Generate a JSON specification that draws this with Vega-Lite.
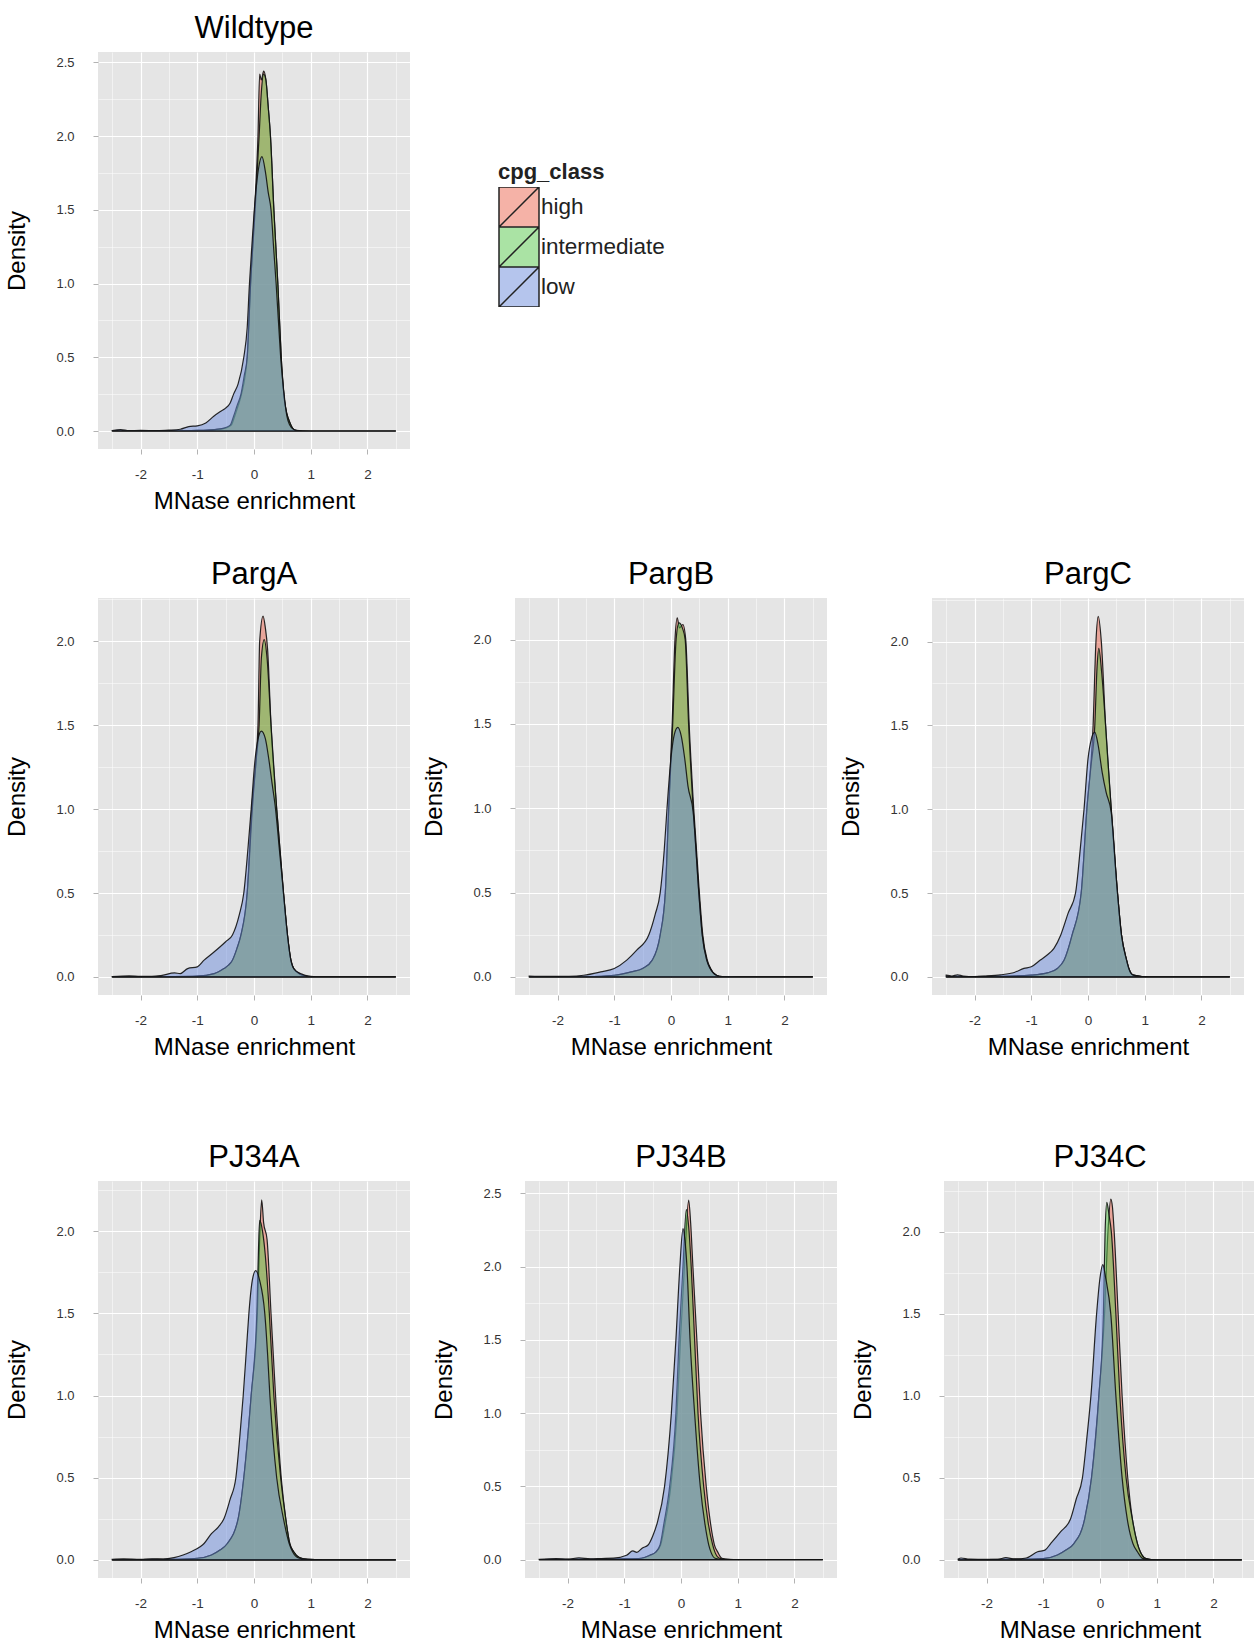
{
"$schema": "https://vega.github.io/schema/vega-lite/v6.json",
"padding": {"left": 5, "top": 13, "right": 0, "bottom": 0},
"background": "white",
"config": {
  "font": "Liberation Sans",
  "view": {"fill": "#E5E5E5", "stroke": null},
  "title": {"fontSize": 31, "fontWeight": "normal", "color": "#000000", "anchor": "middle", "baseline": "alphabetic", "offset": 7},
  "axis": {"domain": false, "tickColor": "#b3b3b3", "tickSize": 5, "labelColor": "#333333", "titleFontSize": 24, "titleFontWeight": "normal", "titleColor": "#000000", "gridColor": "#ffffff"},
  "axisX": {"labelFontSize": 13.5, "labelPadding": 13, "titlePadding": 8.5},
  "axisY": {"labelFontSize": 13, "labelPadding": 19, "titlePadding": 26},
  "legend": {"titleFontSize": 22, "titleFontWeight": "bold", "titleColor": "#222222", "titlePadding": 3, "labelFontSize": 22.5, "labelColor": "#222222", "labelOffset": 1, "symbolType": "M-1,-1H1V1H-1Z M-1,1L1,-1", "symbolSize": 1600, "symbolStrokeColor": "#222222", "symbolStrokeWidth": 1.5, "rowPadding": 0, "clipHeight": 40}
},
"datasets": {
"Wildtype": [
{"c":"high","x":-2.5,"y":0},{"c":"high","x":-1.5,"y":0.001},{"c":"high","x":-1.0,"y":0.004},{"c":"high","x":-0.7,"y":0.01},{"c":"high","x":-0.5,"y":0.02},{"c":"high","x":-0.4,"y":0.04},{"c":"high","x":-0.34,"y":0.1},{"c":"high","x":-0.28,"y":0.17},{"c":"high","x":-0.22,"y":0.25},{"c":"high","x":-0.12,"y":0.5},{"c":"high","x":-0.06,"y":1.0},{"c":"high","x":0.01,"y":1.5},{"c":"high","x":0.07,"y":2.0},{"c":"high","x":0.1,"y":2.42},{"c":"high","x":0.13,"y":2.38},{"c":"high","x":0.17,"y":2.44},{"c":"high","x":0.21,"y":2.38},{"c":"high","x":0.25,"y":2.2},{"c":"high","x":0.29,"y":2.0},{"c":"high","x":0.35,"y":1.5},{"c":"high","x":0.42,"y":1.0},{"c":"high","x":0.48,"y":0.5},{"c":"high","x":0.54,"y":0.2},{"c":"high","x":0.64,"y":0.05},{"c":"high","x":0.73,"y":0.005},{"c":"high","x":0.85,"y":0},{"c":"high","x":2.5,"y":0},
{"c":"intermediate","x":-2.5,"y":0},{"c":"intermediate","x":-1.5,"y":0.001},{"c":"intermediate","x":-1.0,"y":0.004},{"c":"intermediate","x":-0.7,"y":0.01},{"c":"intermediate","x":-0.53,"y":0.02},{"c":"intermediate","x":-0.42,"y":0.04},{"c":"intermediate","x":-0.36,"y":0.1},{"c":"intermediate","x":-0.3,"y":0.17},{"c":"intermediate","x":-0.23,"y":0.25},{"c":"intermediate","x":-0.17,"y":0.38},{"c":"intermediate","x":-0.12,"y":0.5},{"c":"intermediate","x":-0.06,"y":1.0},{"c":"intermediate","x":0.02,"y":1.5},{"c":"intermediate","x":0.09,"y":2.0},{"c":"intermediate","x":0.13,"y":2.3},{"c":"intermediate","x":0.17,"y":2.42},{"c":"intermediate","x":0.21,"y":2.38},{"c":"intermediate","x":0.25,"y":2.2},{"c":"intermediate","x":0.29,"y":2.0},{"c":"intermediate","x":0.35,"y":1.5},{"c":"intermediate","x":0.42,"y":1.0},{"c":"intermediate","x":0.48,"y":0.5},{"c":"intermediate","x":0.54,"y":0.2},{"c":"intermediate","x":0.64,"y":0.05},{"c":"intermediate","x":0.73,"y":0.005},{"c":"intermediate","x":0.85,"y":0},{"c":"intermediate","x":2.5,"y":0},
{"c":"low","x":-2.5,"y":0.003},{"c":"low","x":-2.35,"y":0.01},{"c":"low","x":-2.2,"y":0.003},{"c":"low","x":-2.0,"y":0.004},{"c":"low","x":-1.7,"y":0.003},{"c":"low","x":-1.5,"y":0.006},{"c":"low","x":-1.3,"y":0.012},{"c":"low","x":-1.15,"y":0.03},{"c":"low","x":-1.0,"y":0.035},{"c":"low","x":-0.85,"y":0.055},{"c":"low","x":-0.71,"y":0.1},{"c":"low","x":-0.6,"y":0.13},{"c":"low","x":-0.5,"y":0.155},{"c":"low","x":-0.42,"y":0.19},{"c":"low","x":-0.36,"y":0.25},{"c":"low","x":-0.28,"y":0.32},{"c":"low","x":-0.18,"y":0.5},{"c":"low","x":-0.12,"y":0.7},{"c":"low","x":-0.08,"y":1.0},{"c":"low","x":-0.03,"y":1.3},{"c":"low","x":0.02,"y":1.57},{"c":"low","x":0.08,"y":1.78},{"c":"low","x":0.14,"y":1.86},{"c":"low","x":0.2,"y":1.76},{"c":"low","x":0.25,"y":1.62},{"c":"low","x":0.3,"y":1.5},{"c":"low","x":0.35,"y":1.22},{"c":"low","x":0.39,"y":1.0},{"c":"low","x":0.43,"y":0.75},{"c":"low","x":0.47,"y":0.5},{"c":"low","x":0.53,"y":0.25},{"c":"low","x":0.58,"y":0.1},{"c":"low","x":0.63,"y":0.04},{"c":"low","x":0.7,"y":0.01},{"c":"low","x":0.8,"y":0.002},{"c":"low","x":1.0,"y":0},{"c":"low","x":2.5,"y":0}
],
"PargA": [
{"c":"high","x":-2.5,"y":0},{"c":"high","x":-1.5,"y":0.002},{"c":"high","x":-1.0,"y":0.005},{"c":"high","x":-0.7,"y":0.02},{"c":"high","x":-0.53,"y":0.05},{"c":"high","x":-0.45,"y":0.07},{"c":"high","x":-0.38,"y":0.1},{"c":"high","x":-0.3,"y":0.17},{"c":"high","x":-0.23,"y":0.25},{"c":"high","x":-0.12,"y":0.5},{"c":"high","x":-0.04,"y":1.0},{"c":"high","x":0.07,"y":1.5},{"c":"high","x":0.1,"y":2.0},{"c":"high","x":0.16,"y":2.15},{"c":"high","x":0.2,"y":2.08},{"c":"high","x":0.24,"y":1.95},{"c":"high","x":0.3,"y":1.5},{"c":"high","x":0.4,"y":1.0},{"c":"high","x":0.52,"y":0.5},{"c":"high","x":0.59,"y":0.25},{"c":"high","x":0.65,"y":0.1},{"c":"high","x":0.7,"y":0.05},{"c":"high","x":0.82,"y":0.015},{"c":"high","x":1.0,"y":0},{"c":"high","x":2.5,"y":0},
{"c":"intermediate","x":-2.5,"y":0},{"c":"intermediate","x":-1.5,"y":0.002},{"c":"intermediate","x":-1.0,"y":0.005},{"c":"intermediate","x":-0.7,"y":0.02},{"c":"intermediate","x":-0.53,"y":0.05},{"c":"intermediate","x":-0.45,"y":0.07},{"c":"intermediate","x":-0.38,"y":0.1},{"c":"intermediate","x":-0.3,"y":0.17},{"c":"intermediate","x":-0.23,"y":0.25},{"c":"intermediate","x":-0.12,"y":0.5},{"c":"intermediate","x":-0.03,"y":1.0},{"c":"intermediate","x":0.04,"y":1.3},{"c":"intermediate","x":0.09,"y":1.5},{"c":"intermediate","x":0.13,"y":1.9},{"c":"intermediate","x":0.18,"y":2.01},{"c":"intermediate","x":0.23,"y":1.9},{"c":"intermediate","x":0.3,"y":1.5},{"c":"intermediate","x":0.4,"y":1.0},{"c":"intermediate","x":0.52,"y":0.5},{"c":"intermediate","x":0.59,"y":0.25},{"c":"intermediate","x":0.65,"y":0.1},{"c":"intermediate","x":0.7,"y":0.05},{"c":"intermediate","x":0.82,"y":0.015},{"c":"intermediate","x":1.0,"y":0},{"c":"intermediate","x":2.5,"y":0},
{"c":"low","x":-2.5,"y":0.002},{"c":"low","x":-2.2,"y":0.006},{"c":"low","x":-2.0,"y":0.003},{"c":"low","x":-1.8,"y":0.003},{"c":"low","x":-1.64,"y":0.008},{"c":"low","x":-1.4,"y":0.024},{"c":"low","x":-1.3,"y":0.02},{"c":"low","x":-1.17,"y":0.05},{"c":"low","x":-1.0,"y":0.06},{"c":"low","x":-0.88,"y":0.1},{"c":"low","x":-0.7,"y":0.15},{"c":"low","x":-0.5,"y":0.21},{"c":"low","x":-0.38,"y":0.25},{"c":"low","x":-0.26,"y":0.37},{"c":"low","x":-0.18,"y":0.5},{"c":"low","x":-0.11,"y":0.75},{"c":"low","x":-0.05,"y":1.0},{"c":"low","x":0.02,"y":1.3},{"c":"low","x":0.08,"y":1.43},{"c":"low","x":0.13,"y":1.465},{"c":"low","x":0.2,"y":1.42},{"c":"low","x":0.26,"y":1.3},{"c":"low","x":0.32,"y":1.15},{"c":"low","x":0.38,"y":1.0},{"c":"low","x":0.45,"y":0.75},{"c":"low","x":0.52,"y":0.5},{"c":"low","x":0.59,"y":0.25},{"c":"low","x":0.65,"y":0.1},{"c":"low","x":0.7,"y":0.05},{"c":"low","x":0.82,"y":0.02},{"c":"low","x":1.0,"y":0.003},{"c":"low","x":1.2,"y":0},{"c":"low","x":2.5,"y":0}
],
"PargB": [
{"c":"high","x":-2.5,"y":0},{"c":"high","x":-1.5,"y":0.002},{"c":"high","x":-1.0,"y":0.01},{"c":"high","x":-0.7,"y":0.03},{"c":"high","x":-0.5,"y":0.05},{"c":"high","x":-0.33,"y":0.1},{"c":"high","x":-0.19,"y":0.25},{"c":"high","x":-0.1,"y":0.5},{"c":"high","x":-0.04,"y":1.0},{"c":"high","x":0.02,"y":1.5},{"c":"high","x":0.07,"y":2.0},{"c":"high","x":0.11,"y":2.13},{"c":"high","x":0.15,"y":2.07},{"c":"high","x":0.21,"y":2.09},{"c":"high","x":0.26,"y":2.0},{"c":"high","x":0.32,"y":1.5},{"c":"high","x":0.4,"y":1.0},{"c":"high","x":0.5,"y":0.5},{"c":"high","x":0.56,"y":0.25},{"c":"high","x":0.64,"y":0.1},{"c":"high","x":0.7,"y":0.05},{"c":"high","x":0.8,"y":0.01},{"c":"high","x":0.9,"y":0.002},{"c":"high","x":1.2,"y":0},{"c":"high","x":2.5,"y":0},
{"c":"intermediate","x":-2.5,"y":0},{"c":"intermediate","x":-1.5,"y":0.002},{"c":"intermediate","x":-1.0,"y":0.01},{"c":"intermediate","x":-0.7,"y":0.03},{"c":"intermediate","x":-0.5,"y":0.05},{"c":"intermediate","x":-0.33,"y":0.1},{"c":"intermediate","x":-0.19,"y":0.25},{"c":"intermediate","x":-0.1,"y":0.5},{"c":"intermediate","x":-0.04,"y":1.0},{"c":"intermediate","x":0.03,"y":1.5},{"c":"intermediate","x":0.09,"y":2.0},{"c":"intermediate","x":0.14,"y":2.1},{"c":"intermediate","x":0.2,"y":2.07},{"c":"intermediate","x":0.25,"y":2.0},{"c":"intermediate","x":0.31,"y":1.5},{"c":"intermediate","x":0.39,"y":1.0},{"c":"intermediate","x":0.49,"y":0.5},{"c":"intermediate","x":0.55,"y":0.25},{"c":"intermediate","x":0.63,"y":0.1},{"c":"intermediate","x":0.69,"y":0.05},{"c":"intermediate","x":0.8,"y":0.01},{"c":"intermediate","x":0.9,"y":0.002},{"c":"intermediate","x":1.2,"y":0},{"c":"intermediate","x":2.5,"y":0},
{"c":"low","x":-2.5,"y":0.005},{"c":"low","x":-2.2,"y":0.003},{"c":"low","x":-1.8,"y":0.004},{"c":"low","x":-1.54,"y":0.01},{"c":"low","x":-1.24,"y":0.03},{"c":"low","x":-1.0,"y":0.05},{"c":"low","x":-0.78,"y":0.1},{"c":"low","x":-0.6,"y":0.16},{"c":"low","x":-0.39,"y":0.25},{"c":"low","x":-0.28,"y":0.37},{"c":"low","x":-0.19,"y":0.5},{"c":"low","x":-0.12,"y":0.75},{"c":"low","x":-0.07,"y":1.0},{"c":"low","x":0.0,"y":1.3},{"c":"low","x":0.06,"y":1.44},{"c":"low","x":0.12,"y":1.48},{"c":"low","x":0.18,"y":1.43},{"c":"low","x":0.24,"y":1.3},{"c":"low","x":0.3,"y":1.13},{"c":"low","x":0.39,"y":0.98},{"c":"low","x":0.49,"y":0.5},{"c":"low","x":0.55,"y":0.25},{"c":"low","x":0.63,"y":0.1},{"c":"low","x":0.69,"y":0.05},{"c":"low","x":0.8,"y":0.01},{"c":"low","x":0.9,"y":0.002},{"c":"low","x":1.2,"y":0},{"c":"low","x":2.5,"y":0}
],
"PargC": [
{"c":"high","x":-2.5,"y":0},{"c":"high","x":-1.5,"y":0.003},{"c":"high","x":-1.0,"y":0.01},{"c":"high","x":-0.7,"y":0.025},{"c":"high","x":-0.54,"y":0.05},{"c":"high","x":-0.42,"y":0.1},{"c":"high","x":-0.28,"y":0.25},{"c":"high","x":-0.12,"y":0.5},{"c":"high","x":-0.02,"y":1.0},{"c":"high","x":0.09,"y":1.5},{"c":"high","x":0.14,"y":2.0},{"c":"high","x":0.18,"y":2.15},{"c":"high","x":0.235,"y":2.0},{"c":"high","x":0.31,"y":1.5},{"c":"high","x":0.41,"y":1.0},{"c":"high","x":0.52,"y":0.5},{"c":"high","x":0.59,"y":0.25},{"c":"high","x":0.68,"y":0.1},{"c":"high","x":0.72,"y":0.05},{"c":"high","x":0.8,"y":0.01},{"c":"high","x":0.95,"y":0.002},{"c":"high","x":1.2,"y":0},{"c":"high","x":2.5,"y":0},
{"c":"intermediate","x":-2.5,"y":0},{"c":"intermediate","x":-1.5,"y":0.003},{"c":"intermediate","x":-1.0,"y":0.01},{"c":"intermediate","x":-0.7,"y":0.025},{"c":"intermediate","x":-0.54,"y":0.05},{"c":"intermediate","x":-0.42,"y":0.1},{"c":"intermediate","x":-0.28,"y":0.25},{"c":"intermediate","x":-0.12,"y":0.5},{"c":"intermediate","x":-0.02,"y":1.0},{"c":"intermediate","x":0.05,"y":1.25},{"c":"intermediate","x":0.12,"y":1.5},{"c":"intermediate","x":0.16,"y":1.85},{"c":"intermediate","x":0.19,"y":1.96},{"c":"intermediate","x":0.24,"y":1.82},{"c":"intermediate","x":0.31,"y":1.5},{"c":"intermediate","x":0.41,"y":1.0},{"c":"intermediate","x":0.52,"y":0.5},{"c":"intermediate","x":0.59,"y":0.25},{"c":"intermediate","x":0.68,"y":0.1},{"c":"intermediate","x":0.72,"y":0.05},{"c":"intermediate","x":0.8,"y":0.01},{"c":"intermediate","x":0.95,"y":0.002},{"c":"intermediate","x":1.2,"y":0},{"c":"intermediate","x":2.5,"y":0},
{"c":"low","x":-2.5,"y":0.01},{"c":"low","x":-2.4,"y":0.005},{"c":"low","x":-2.3,"y":0.012},{"c":"low","x":-2.2,"y":0.005},{"c":"low","x":-2.0,"y":0.002},{"c":"low","x":-1.8,"y":0.005},{"c":"low","x":-1.54,"y":0.012},{"c":"low","x":-1.3,"y":0.026},{"c":"low","x":-1.13,"y":0.05},{"c":"low","x":-1.0,"y":0.06},{"c":"low","x":-0.84,"y":0.1},{"c":"low","x":-0.72,"y":0.13},{"c":"low","x":-0.6,"y":0.17},{"c":"low","x":-0.48,"y":0.25},{"c":"low","x":-0.35,"y":0.38},{"c":"low","x":-0.22,"y":0.5},{"c":"low","x":-0.14,"y":0.75},{"c":"low","x":-0.07,"y":1.0},{"c":"low","x":0.0,"y":1.3},{"c":"low","x":0.06,"y":1.42},{"c":"low","x":0.12,"y":1.46},{"c":"low","x":0.18,"y":1.38},{"c":"low","x":0.25,"y":1.22},{"c":"low","x":0.32,"y":1.1},{"c":"low","x":0.41,"y":0.98},{"c":"low","x":0.52,"y":0.5},{"c":"low","x":0.59,"y":0.25},{"c":"low","x":0.68,"y":0.1},{"c":"low","x":0.72,"y":0.05},{"c":"low","x":0.8,"y":0.01},{"c":"low","x":0.95,"y":0.002},{"c":"low","x":1.2,"y":0},{"c":"low","x":2.5,"y":0}
],
"PJ34A": [
{"c":"high","x":-2.5,"y":0},{"c":"high","x":-1.5,"y":0.003},{"c":"high","x":-1.0,"y":0.01},{"c":"high","x":-0.75,"y":0.03},{"c":"high","x":-0.6,"y":0.06},{"c":"high","x":-0.47,"y":0.1},{"c":"high","x":-0.28,"y":0.25},{"c":"high","x":-0.18,"y":0.5},{"c":"high","x":-0.05,"y":1.0},{"c":"high","x":0.06,"y":1.5},{"c":"high","x":0.1,"y":1.95},{"c":"high","x":0.135,"y":2.19},{"c":"high","x":0.17,"y":2.05},{"c":"high","x":0.23,"y":1.95},{"c":"high","x":0.3,"y":1.5},{"c":"high","x":0.38,"y":1.0},{"c":"high","x":0.48,"y":0.5},{"c":"high","x":0.56,"y":0.25},{"c":"high","x":0.63,"y":0.1},{"c":"high","x":0.7,"y":0.05},{"c":"high","x":0.8,"y":0.015},{"c":"high","x":0.95,"y":0.003},{"c":"high","x":1.2,"y":0},{"c":"high","x":2.5,"y":0},
{"c":"intermediate","x":-2.5,"y":0},{"c":"intermediate","x":-1.5,"y":0.003},{"c":"intermediate","x":-1.0,"y":0.01},{"c":"intermediate","x":-0.75,"y":0.03},{"c":"intermediate","x":-0.6,"y":0.06},{"c":"intermediate","x":-0.47,"y":0.1},{"c":"intermediate","x":-0.28,"y":0.25},{"c":"intermediate","x":-0.18,"y":0.5},{"c":"intermediate","x":-0.05,"y":1.0},{"c":"intermediate","x":0.05,"y":1.5},{"c":"intermediate","x":0.08,"y":1.9},{"c":"intermediate","x":0.1,"y":2.065},{"c":"intermediate","x":0.15,"y":2.0},{"c":"intermediate","x":0.2,"y":1.85},{"c":"intermediate","x":0.27,"y":1.5},{"c":"intermediate","x":0.35,"y":1.0},{"c":"intermediate","x":0.47,"y":0.5},{"c":"intermediate","x":0.56,"y":0.25},{"c":"intermediate","x":0.63,"y":0.1},{"c":"intermediate","x":0.7,"y":0.05},{"c":"intermediate","x":0.8,"y":0.015},{"c":"intermediate","x":0.95,"y":0.003},{"c":"intermediate","x":1.2,"y":0},{"c":"intermediate","x":2.5,"y":0},
{"c":"low","x":-2.5,"y":0.003},{"c":"low","x":-2.3,"y":0.006},{"c":"low","x":-2.0,"y":0.003},{"c":"low","x":-1.8,"y":0.007},{"c":"low","x":-1.6,"y":0.005},{"c":"low","x":-1.41,"y":0.014},{"c":"low","x":-1.25,"y":0.03},{"c":"low","x":-1.11,"y":0.05},{"c":"low","x":-0.95,"y":0.08},{"c":"low","x":-0.88,"y":0.1},{"c":"low","x":-0.75,"y":0.16},{"c":"low","x":-0.63,"y":0.2},{"c":"low","x":-0.53,"y":0.25},{"c":"low","x":-0.42,"y":0.37},{"c":"low","x":-0.32,"y":0.5},{"c":"low","x":-0.25,"y":0.75},{"c":"low","x":-0.19,"y":1.0},{"c":"low","x":-0.13,"y":1.3},{"c":"low","x":-0.09,"y":1.5},{"c":"low","x":-0.03,"y":1.7},{"c":"low","x":0.03,"y":1.76},{"c":"low","x":0.1,"y":1.7},{"c":"low","x":0.19,"y":1.5},{"c":"low","x":0.24,"y":1.25},{"c":"low","x":0.28,"y":1.0},{"c":"low","x":0.4,"y":0.5},{"c":"low","x":0.52,"y":0.25},{"c":"low","x":0.62,"y":0.1},{"c":"low","x":0.68,"y":0.05},{"c":"low","x":0.8,"y":0.01},{"c":"low","x":0.95,"y":0.003},{"c":"low","x":1.2,"y":0},{"c":"low","x":2.5,"y":0}
],
"PJ34B": [
{"c":"high","x":-2.5,"y":0},{"c":"high","x":-1.5,"y":0.002},{"c":"high","x":-1.0,"y":0.005},{"c":"high","x":-0.7,"y":0.01},{"c":"high","x":-0.55,"y":0.03},{"c":"high","x":-0.45,"y":0.05},{"c":"high","x":-0.36,"y":0.1},{"c":"high","x":-0.28,"y":0.25},{"c":"high","x":-0.18,"y":0.5},{"c":"high","x":-0.07,"y":1.0},{"c":"high","x":-0.01,"y":1.5},{"c":"high","x":0.06,"y":2.0},{"c":"high","x":0.135,"y":2.455},{"c":"high","x":0.17,"y":2.3},{"c":"high","x":0.21,"y":2.0},{"c":"high","x":0.28,"y":1.5},{"c":"high","x":0.345,"y":1.0},{"c":"high","x":0.445,"y":0.5},{"c":"high","x":0.52,"y":0.25},{"c":"high","x":0.59,"y":0.1},{"c":"high","x":0.65,"y":0.05},{"c":"high","x":0.72,"y":0.01},{"c":"high","x":0.85,"y":0.002},{"c":"high","x":1.0,"y":0},{"c":"high","x":2.5,"y":0},
{"c":"intermediate","x":-2.5,"y":0},{"c":"intermediate","x":-1.5,"y":0.002},{"c":"intermediate","x":-1.0,"y":0.005},{"c":"intermediate","x":-0.7,"y":0.01},{"c":"intermediate","x":-0.55,"y":0.03},{"c":"intermediate","x":-0.45,"y":0.05},{"c":"intermediate","x":-0.37,"y":0.1},{"c":"intermediate","x":-0.3,"y":0.25},{"c":"intermediate","x":-0.2,"y":0.5},{"c":"intermediate","x":-0.09,"y":1.0},{"c":"intermediate","x":-0.035,"y":1.5},{"c":"intermediate","x":0.035,"y":2.0},{"c":"intermediate","x":0.094,"y":2.39},{"c":"intermediate","x":0.14,"y":2.25},{"c":"intermediate","x":0.18,"y":2.0},{"c":"intermediate","x":0.24,"y":1.5},{"c":"intermediate","x":0.3,"y":1.0},{"c":"intermediate","x":0.4,"y":0.5},{"c":"intermediate","x":0.48,"y":0.25},{"c":"intermediate","x":0.56,"y":0.1},{"c":"intermediate","x":0.6,"y":0.05},{"c":"intermediate","x":0.68,"y":0.01},{"c":"intermediate","x":0.8,"y":0.002},{"c":"intermediate","x":0.95,"y":0},{"c":"intermediate","x":2.5,"y":0},
{"c":"low","x":-2.5,"y":0.002},{"c":"low","x":-2.2,"y":0.008},{"c":"low","x":-2.0,"y":0.004},{"c":"low","x":-1.8,"y":0.012},{"c":"low","x":-1.6,"y":0.006},{"c":"low","x":-1.4,"y":0.008},{"c":"low","x":-1.19,"y":0.01},{"c":"low","x":-0.96,"y":0.03},{"c":"low","x":-0.85,"y":0.06},{"c":"low","x":-0.78,"y":0.05},{"c":"low","x":-0.68,"y":0.08},{"c":"low","x":-0.58,"y":0.1},{"c":"low","x":-0.5,"y":0.16},{"c":"low","x":-0.42,"y":0.25},{"c":"low","x":-0.29,"y":0.5},{"c":"low","x":-0.17,"y":1.0},{"c":"low","x":-0.09,"y":1.5},{"c":"low","x":-0.02,"y":2.0},{"c":"low","x":0.035,"y":2.26},{"c":"low","x":0.07,"y":2.18},{"c":"low","x":0.105,"y":2.0},{"c":"low","x":0.16,"y":1.5},{"c":"low","x":0.24,"y":1.0},{"c":"low","x":0.34,"y":0.5},{"c":"low","x":0.42,"y":0.25},{"c":"low","x":0.49,"y":0.1},{"c":"low","x":0.53,"y":0.05},{"c":"low","x":0.6,"y":0.01},{"c":"low","x":0.75,"y":0.002},{"c":"low","x":0.9,"y":0},{"c":"low","x":2.5,"y":0}
],
"PJ34C": [
{"c":"high","x":-2.5,"y":0},{"c":"high","x":-1.5,"y":0.003},{"c":"high","x":-1.0,"y":0.008},{"c":"high","x":-0.75,"y":0.03},{"c":"high","x":-0.6,"y":0.06},{"c":"high","x":-0.46,"y":0.1},{"c":"high","x":-0.27,"y":0.25},{"c":"high","x":-0.15,"y":0.5},{"c":"high","x":-0.02,"y":1.0},{"c":"high","x":0.08,"y":1.5},{"c":"high","x":0.14,"y":2.0},{"c":"high","x":0.19,"y":2.2},{"c":"high","x":0.22,"y":2.15},{"c":"high","x":0.25,"y":2.0},{"c":"high","x":0.32,"y":1.5},{"c":"high","x":0.39,"y":1.0},{"c":"high","x":0.49,"y":0.5},{"c":"high","x":0.57,"y":0.25},{"c":"high","x":0.66,"y":0.1},{"c":"high","x":0.71,"y":0.05},{"c":"high","x":0.8,"y":0.01},{"c":"high","x":0.9,"y":0.002},{"c":"high","x":1.1,"y":0},{"c":"high","x":2.5,"y":0},
{"c":"intermediate","x":-2.5,"y":0},{"c":"intermediate","x":-1.5,"y":0.003},{"c":"intermediate","x":-1.0,"y":0.008},{"c":"intermediate","x":-0.75,"y":0.03},{"c":"intermediate","x":-0.6,"y":0.06},{"c":"intermediate","x":-0.46,"y":0.1},{"c":"intermediate","x":-0.27,"y":0.25},{"c":"intermediate","x":-0.15,"y":0.5},{"c":"intermediate","x":-0.02,"y":1.0},{"c":"intermediate","x":0.06,"y":1.5},{"c":"intermediate","x":0.09,"y":2.0},{"c":"intermediate","x":0.12,"y":2.18},{"c":"intermediate","x":0.16,"y":2.1},{"c":"intermediate","x":0.2,"y":2.0},{"c":"intermediate","x":0.28,"y":1.5},{"c":"intermediate","x":0.35,"y":1.0},{"c":"intermediate","x":0.46,"y":0.5},{"c":"intermediate","x":0.57,"y":0.25},{"c":"intermediate","x":0.66,"y":0.1},{"c":"intermediate","x":0.71,"y":0.05},{"c":"intermediate","x":0.8,"y":0.01},{"c":"intermediate","x":0.9,"y":0.002},{"c":"intermediate","x":1.1,"y":0},{"c":"intermediate","x":2.5,"y":0},
{"c":"low","x":-2.5,"y":0.005},{"c":"low","x":-2.45,"y":0.012},{"c":"low","x":-2.3,"y":0.005},{"c":"low","x":-2.0,"y":0.003},{"c":"low","x":-1.8,"y":0.004},{"c":"low","x":-1.66,"y":0.014},{"c":"low","x":-1.5,"y":0.006},{"c":"low","x":-1.3,"y":0.012},{"c":"low","x":-1.1,"y":0.05},{"c":"low","x":-0.97,"y":0.06},{"c":"low","x":-0.87,"y":0.1},{"c":"low","x":-0.7,"y":0.17},{"c":"low","x":-0.52,"y":0.25},{"c":"low","x":-0.42,"y":0.37},{"c":"low","x":-0.31,"y":0.5},{"c":"low","x":-0.23,"y":0.75},{"c":"low","x":-0.16,"y":1.0},{"c":"low","x":-0.06,"y":1.5},{"c":"low","x":0.0,"y":1.72},{"c":"low","x":0.05,"y":1.8},{"c":"low","x":0.1,"y":1.72},{"c":"low","x":0.19,"y":1.5},{"c":"low","x":0.28,"y":1.0},{"c":"low","x":0.39,"y":0.5},{"c":"low","x":0.48,"y":0.25},{"c":"low","x":0.58,"y":0.1},{"c":"low","x":0.66,"y":0.05},{"c":"low","x":0.75,"y":0.01},{"c":"low","x":0.9,"y":0.002},{"c":"low","x":1.1,"y":0},{"c":"low","x":2.5,"y":0}
]
},
"spacing": 46,
"vconcat": [
{
 "title": "Wildtype", "width": 312, "height": 397, "data": {"name": "Wildtype"},
 "mark": {"type": "area", "interpolate": "monotone", "fillOpacity": 0.5, "stroke": "#111111", "strokeWidth": 1.2, "strokeOpacity": 0.9},
 "encoding": {
  "x": {"field": "x", "type": "quantitative", "scale": {"domain": [-2.75, 2.75], "nice": false, "zero": false}, "axis": {"title": "MNase enrichment", "values": [-2.5,-2,-1.5,-1,-0.5,0,0.5,1,1.5,2,2.5], "labelExpr": "datum.value % 1 === 0 ? '' + datum.value : ''", "gridWidth": {"condition": {"test": "datum.value % 1 !== 0", "value": 0.5}, "value": 1.2}, "tickOpacity": {"condition": {"test": "datum.value % 1 !== 0", "value": 0}, "value": 1}}},
  "y": {"field": "y", "type": "quantitative", "stack": null, "scale": {"domain": [-0.122, 2.57], "nice": false, "zero": false}, "axis": {"title": "Density", "values": [0,0.25,0.5,0.75,1,1.25,1.5,1.75,2,2.25,2.5], "labelExpr": "datum.value % 0.5 === 0 ? format(datum.value, '.1f') : ''", "gridWidth": {"condition": {"test": "datum.value % 0.5 !== 0", "value": 0.5}, "value": 1.2}, "tickOpacity": {"condition": {"test": "datum.value % 0.5 !== 0", "value": 0}, "value": 1}}},
  "color": {"field": "c", "type": "nominal", "scale": {"domain": ["high", "intermediate", "low"], "range": ["#EB654F", "#55C84A", "#6B8BDB"]}, "legend": {"title": "cpg_class", "orient": "none", "legendX": 400, "legendY": 110, "encode": {"symbols": {"update": {"fillOpacity": {"value": 0.5}, "stroke": {"value": "#222222"}, "strokeWidth": {"value": 1.5}}}}}}
 }
},
{
 "spacing": 83,
 "vconcat": [
  {
   "spacing": 12,
   "hconcat": [
    {
     "title": "PargA", "width": 312, "height": 397, "data": {"name": "PargA"},
     "mark": {"type": "area", "interpolate": "monotone", "fillOpacity": 0.5, "stroke": "#111111", "strokeWidth": 1.2, "strokeOpacity": 0.9},
     "encoding": {
      "x": {"field": "x", "type": "quantitative", "scale": {"domain": [-2.75, 2.75], "nice": false, "zero": false}, "axis": {"title": "MNase enrichment", "values": [-2.5,-2,-1.5,-1,-0.5,0,0.5,1,1.5,2,2.5], "labelExpr": "datum.value % 1 === 0 ? '' + datum.value : ''", "gridWidth": {"condition": {"test": "datum.value % 1 !== 0", "value": 0.5}, "value": 1.2}, "tickOpacity": {"condition": {"test": "datum.value % 1 !== 0", "value": 0}, "value": 1}}},
      "y": {"field": "y", "type": "quantitative", "stack": null, "scale": {"domain": [-0.1075, 2.2575], "nice": false, "zero": false}, "axis": {"title": "Density", "values": [0,0.25,0.5,0.75,1,1.25,1.5,1.75,2,2.25], "labelExpr": "datum.value % 0.5 === 0 ? format(datum.value, '.1f') : ''", "gridWidth": {"condition": {"test": "datum.value % 0.5 !== 0", "value": 0.5}, "value": 1.2}, "tickOpacity": {"condition": {"test": "datum.value % 0.5 !== 0", "value": 0}, "value": 1}}},
      "color": {"field": "c", "type": "nominal", "scale": {"domain": ["high", "intermediate", "low"], "range": ["#EB654F", "#55C84A", "#6B8BDB"]}, "legend": {"title": "cpg_class", "orient": "none", "legendX": 400, "legendY": 110, "encode": {"symbols": {"update": {"fillOpacity": {"value": 0.5}, "stroke": {"value": "#222222"}, "strokeWidth": {"value": 1.5}}}}}}
     }
    },
    {
     "title": "PargB", "width": 312, "height": 397, "data": {"name": "PargB"},
     "mark": {"type": "area", "interpolate": "monotone", "fillOpacity": 0.5, "stroke": "#111111", "strokeWidth": 1.2, "strokeOpacity": 0.9},
     "encoding": {
      "x": {"field": "x", "type": "quantitative", "scale": {"domain": [-2.75, 2.75], "nice": false, "zero": false}, "axis": {"title": "MNase enrichment", "values": [-2.5,-2,-1.5,-1,-0.5,0,0.5,1,1.5,2,2.5], "labelExpr": "datum.value % 1 === 0 ? '' + datum.value : ''", "gridWidth": {"condition": {"test": "datum.value % 1 !== 0", "value": 0.5}, "value": 1.2}, "tickOpacity": {"condition": {"test": "datum.value % 1 !== 0", "value": 0}, "value": 1}}},
      "y": {"field": "y", "type": "quantitative", "stack": null, "scale": {"domain": [-0.107, 2.247], "nice": false, "zero": false}, "axis": {"title": "Density", "values": [0,0.25,0.5,0.75,1,1.25,1.5,1.75,2], "labelExpr": "datum.value % 0.5 === 0 ? format(datum.value, '.1f') : ''", "gridWidth": {"condition": {"test": "datum.value % 0.5 !== 0", "value": 0.5}, "value": 1.2}, "tickOpacity": {"condition": {"test": "datum.value % 0.5 !== 0", "value": 0}, "value": 1}}},
      "color": {"field": "c", "type": "nominal", "scale": {"domain": ["high", "intermediate", "low"], "range": ["#EB654F", "#55C84A", "#6B8BDB"]}, "legend": {"title": "cpg_class", "orient": "none", "legendX": 400, "legendY": 110, "encode": {"symbols": {"update": {"fillOpacity": {"value": 0.5}, "stroke": {"value": "#222222"}, "strokeWidth": {"value": 1.5}}}}}}
     }
    },
    {
     "title": "PargC", "width": 312, "height": 397, "data": {"name": "PargC"},
     "mark": {"type": "area", "interpolate": "monotone", "fillOpacity": 0.5, "stroke": "#111111", "strokeWidth": 1.2, "strokeOpacity": 0.9},
     "encoding": {
      "x": {"field": "x", "type": "quantitative", "scale": {"domain": [-2.75, 2.75], "nice": false, "zero": false}, "axis": {"title": "MNase enrichment", "values": [-2.5,-2,-1.5,-1,-0.5,0,0.5,1,1.5,2,2.5], "labelExpr": "datum.value % 1 === 0 ? '' + datum.value : ''", "gridWidth": {"condition": {"test": "datum.value % 1 !== 0", "value": 0.5}, "value": 1.2}, "tickOpacity": {"condition": {"test": "datum.value % 1 !== 0", "value": 0}, "value": 1}}},
      "y": {"field": "y", "type": "quantitative", "stack": null, "scale": {"domain": [-0.1085, 2.26], "nice": false, "zero": false}, "axis": {"title": "Density", "values": [0,0.25,0.5,0.75,1,1.25,1.5,1.75,2,2.25], "labelExpr": "datum.value % 0.5 === 0 ? format(datum.value, '.1f') : ''", "gridWidth": {"condition": {"test": "datum.value % 0.5 !== 0", "value": 0.5}, "value": 1.2}, "tickOpacity": {"condition": {"test": "datum.value % 0.5 !== 0", "value": 0}, "value": 1}}},
      "color": {"field": "c", "type": "nominal", "scale": {"domain": ["high", "intermediate", "low"], "range": ["#EB654F", "#55C84A", "#6B8BDB"]}, "legend": {"title": "cpg_class", "orient": "none", "legendX": 400, "legendY": 110, "encode": {"symbols": {"update": {"fillOpacity": {"value": 0.5}, "stroke": {"value": "#222222"}, "strokeWidth": {"value": 1.5}}}}}}
     }
    }
   ]
  },
  {
   "spacing": 22,
   "hconcat": [
    {
     "title": "PJ34A", "width": 312, "height": 397, "data": {"name": "PJ34A"},
     "mark": {"type": "area", "interpolate": "monotone", "fillOpacity": 0.5, "stroke": "#111111", "strokeWidth": 1.2, "strokeOpacity": 0.9},
     "encoding": {
      "x": {"field": "x", "type": "quantitative", "scale": {"domain": [-2.75, 2.75], "nice": false, "zero": false}, "axis": {"title": "MNase enrichment", "values": [-2.5,-2,-1.5,-1,-0.5,0,0.5,1,1.5,2,2.5], "labelExpr": "datum.value % 1 === 0 ? '' + datum.value : ''", "gridWidth": {"condition": {"test": "datum.value % 1 !== 0", "value": 0.5}, "value": 1.2}, "tickOpacity": {"condition": {"test": "datum.value % 1 !== 0", "value": 0}, "value": 1}}},
      "y": {"field": "y", "type": "quantitative", "stack": null, "scale": {"domain": [-0.11, 2.305], "nice": false, "zero": false}, "axis": {"title": "Density", "values": [0,0.25,0.5,0.75,1,1.25,1.5,1.75,2,2.25], "labelExpr": "datum.value % 0.5 === 0 ? format(datum.value, '.1f') : ''", "gridWidth": {"condition": {"test": "datum.value % 0.5 !== 0", "value": 0.5}, "value": 1.2}, "tickOpacity": {"condition": {"test": "datum.value % 0.5 !== 0", "value": 0}, "value": 1}}},
      "color": {"field": "c", "type": "nominal", "scale": {"domain": ["high", "intermediate", "low"], "range": ["#EB654F", "#55C84A", "#6B8BDB"]}, "legend": {"title": "cpg_class", "orient": "none", "legendX": 400, "legendY": 110, "encode": {"symbols": {"update": {"fillOpacity": {"value": 0.5}, "stroke": {"value": "#222222"}, "strokeWidth": {"value": 1.5}}}}}}
     }
    },
    {
     "spacing": 14,
     "hconcat": [
      {
       "title": "PJ34B", "width": 312, "height": 397, "data": {"name": "PJ34B"},
       "mark": {"type": "area", "interpolate": "monotone", "fillOpacity": 0.5, "stroke": "#111111", "strokeWidth": 1.2, "strokeOpacity": 0.9},
       "encoding": {
        "x": {"field": "x", "type": "quantitative", "scale": {"domain": [-2.75, 2.75], "nice": false, "zero": false}, "axis": {"title": "MNase enrichment", "values": [-2.5,-2,-1.5,-1,-0.5,0,0.5,1,1.5,2,2.5], "labelExpr": "datum.value % 1 === 0 ? '' + datum.value : ''", "gridWidth": {"condition": {"test": "datum.value % 1 !== 0", "value": 0.5}, "value": 1.2}, "tickOpacity": {"condition": {"test": "datum.value % 1 !== 0", "value": 0}, "value": 1}}},
        "y": {"field": "y", "type": "quantitative", "stack": null, "scale": {"domain": [-0.125, 2.585], "nice": false, "zero": false}, "axis": {"title": "Density", "values": [0,0.25,0.5,0.75,1,1.25,1.5,1.75,2,2.25,2.5], "labelExpr": "datum.value % 0.5 === 0 ? format(datum.value, '.1f') : ''", "gridWidth": {"condition": {"test": "datum.value % 0.5 !== 0", "value": 0.5}, "value": 1.2}, "tickOpacity": {"condition": {"test": "datum.value % 0.5 !== 0", "value": 0}, "value": 1}}},
        "color": {"field": "c", "type": "nominal", "scale": {"domain": ["high", "intermediate", "low"], "range": ["#EB654F", "#55C84A", "#6B8BDB"]}, "legend": {"title": "cpg_class", "orient": "none", "legendX": 400, "legendY": 110, "encode": {"symbols": {"update": {"fillOpacity": {"value": 0.5}, "stroke": {"value": "#222222"}, "strokeWidth": {"value": 1.5}}}}}}
       }
      },
      {
       "title": "PJ34C", "width": 312, "height": 397, "data": {"name": "PJ34C"},
       "mark": {"type": "area", "interpolate": "monotone", "fillOpacity": 0.5, "stroke": "#111111", "strokeWidth": 1.2, "strokeOpacity": 0.9},
       "encoding": {
        "x": {"field": "x", "type": "quantitative", "scale": {"domain": [-2.75, 2.75], "nice": false, "zero": false}, "axis": {"title": "MNase enrichment", "values": [-2.5,-2,-1.5,-1,-0.5,0,0.5,1,1.5,2,2.5], "labelExpr": "datum.value % 1 === 0 ? '' + datum.value : ''", "gridWidth": {"condition": {"test": "datum.value % 1 !== 0", "value": 0.5}, "value": 1.2}, "tickOpacity": {"condition": {"test": "datum.value % 1 !== 0", "value": 0}, "value": 1}}},
        "y": {"field": "y", "type": "quantitative", "stack": null, "scale": {"domain": [-0.11, 2.31], "nice": false, "zero": false}, "axis": {"title": "Density", "values": [0,0.25,0.5,0.75,1,1.25,1.5,1.75,2,2.25], "labelExpr": "datum.value % 0.5 === 0 ? format(datum.value, '.1f') : ''", "gridWidth": {"condition": {"test": "datum.value % 0.5 !== 0", "value": 0.5}, "value": 1.2}, "tickOpacity": {"condition": {"test": "datum.value % 0.5 !== 0", "value": 0}, "value": 1}}},
        "color": {"field": "c", "type": "nominal", "scale": {"domain": ["high", "intermediate", "low"], "range": ["#EB654F", "#55C84A", "#6B8BDB"]}, "legend": {"title": "cpg_class", "orient": "none", "legendX": 400, "legendY": 110, "encode": {"symbols": {"update": {"fillOpacity": {"value": 0.5}, "stroke": {"value": "#222222"}, "strokeWidth": {"value": 1.5}}}}}}
       }
      }
     ]
    }
   ]
  }
 ]
}
]
}
